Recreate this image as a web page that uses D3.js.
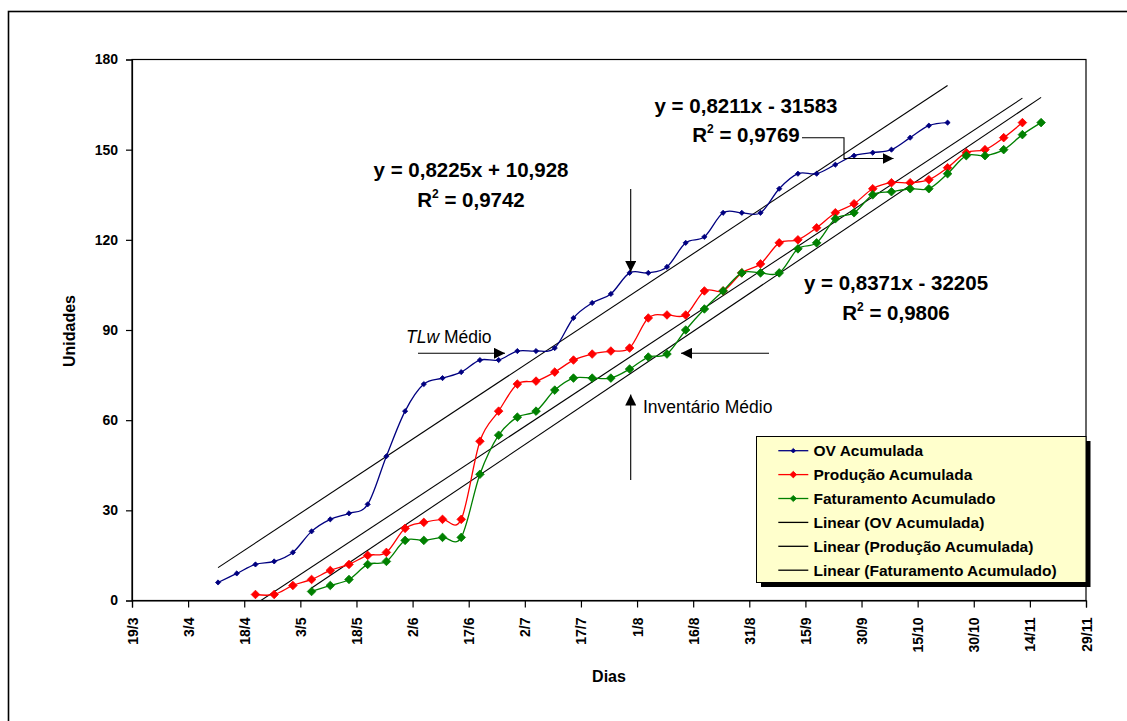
<!DOCTYPE html>
<html>
<head>
<meta charset="utf-8">
<script src="https://cdn.jsdelivr.net/npm/d3@7"></script>
<style>
  html, body { margin: 0; padding: 0; background: #fff; }
  svg { display: block; font-family: "Liberation Sans", Arial, sans-serif; }
</style>
</head>
<body>
<svg id="chart" width="1127" height="721"></svg>
<script>
// ---------------- DATA ----------------
const dates = [
  "2005-04-11","2005-04-16","2005-04-21","2005-04-26","2005-05-01","2005-05-06","2005-05-11","2005-05-16","2005-05-21","2005-05-26",
  "2005-05-31","2005-06-05","2005-06-10","2005-06-15","2005-06-20","2005-06-25","2005-06-30","2005-07-05","2005-07-10","2005-07-15",
  "2005-07-20","2005-07-25","2005-07-30","2005-08-04","2005-08-09","2005-08-14","2005-08-19","2005-08-24","2005-08-29","2005-09-03",
  "2005-09-08","2005-09-13","2005-09-18","2005-09-23","2005-09-28","2005-10-03","2005-10-08","2005-10-13","2005-10-18","2005-10-23",
  "2005-10-28","2005-11-02","2005-11-07","2005-11-12","2005-11-17"
];
const ovValues = [
  6, 9, 12, 13, 16, 23, 27, 29, 32, 48,
  63, 72, 74, 76, 80, 80, 83, 83, 84, 94,
  99, 102, 109, 109, 111, 119, 121, 129, 129, 129,
  137, 142, 142, 145, 148, 149, 150, 154, 158, 159,
  null, null, null, null, null
];
const prodValues = [
  null, null, 2, 2, 5, 7, 10, 12, 15, 16,
  24, 26, 27, 27, 53, 63, 72, 73, 76, 80,
  82, 83, 84, 94, 95, 95, 103, 103, 109, 112,
  119, 120, 124, 129, 132, 137, 139, 139, 140, 144,
  149, 150, 154, 159, null
];
const fatValues = [
  null, null, null, null, null, 3, 5, 7, 12, 13,
  20, 20, 21, 21, 42, 55, 61, 63, 70, 74,
  74, 74, 77, 81, 82, 90, 97, 103, 109, 109,
  109, 117, 119, 127, 129, 135, 136, 137, 137, 142,
  148, 148, 150, 155, 159
];
const seriesNames = ["OV Acumulada", "Produção Acumulada", "Faturamento Acumulado"];
const trendNames = ["Linear (OV Acumulada)", "Linear (Produção Acumulada)", "Linear (Faturamento Acumulado)"];
const seriesColors = ["#000080", "#ff0000", "#008000"];
const xTickDates = [
  "2005-03-19","2005-04-03","2005-04-18","2005-05-03","2005-05-18","2005-06-02","2005-06-17","2005-07-02","2005-07-17",
  "2005-08-01","2005-08-16","2005-08-31","2005-09-15","2005-09-30","2005-10-15","2005-10-30","2005-11-14","2005-11-29"
];
const yTicks = [0, 30, 60, 90, 120, 150, 180];
const equations = [
  ["y = 0,8225x + 10,928", "0,9742"],
  ["y = 0,8211x - 31583", "0,9769"],
  ["y = 0,8371x - 32205", "0,9806"]
];

// ---------------- SETUP ----------------
const parse = d3.utcParse("%Y-%m-%d");
const fmt = d3.utcFormat("%-d/%-m");
const svg = d3.select("#chart");
const font = '"Liberation Sans", Arial, sans-serif';

const L = 132, R = 1086, T = 59.5, B = 600.5;
const x = d3.scaleUtc().domain([parse(xTickDates[0]), parse(xTickDates[xTickDates.length - 1])]).range([L, R]);
const y = d3.scaleLinear().domain([0, 180]).range([B, T]);

// outer frame
svg.append("rect").attr("x", 8.5).attr("y", 11.5).attr("width", 1300).attr("height", 900)
  .attr("fill", "#fff").attr("stroke", "#000").attr("stroke-width", 1.6);

// clip
svg.append("defs").append("clipPath").attr("id", "plotclip")
  .append("rect").attr("x", L).attr("y", T).attr("width", R - L).attr("height", B - T);

const defs = svg.select("defs");
defs.append("marker").attr("id", "arrow").attr("viewBox", "0 0 10 10")
  .attr("refX", 10).attr("refY", 5).attr("markerWidth", 11).attr("markerHeight", 11)
  .attr("markerUnits", "userSpaceOnUse").attr("orient", "auto")
  .append("path").attr("d", "M0,0 L10,5 L0,10 Z").attr("fill", "#000");

// plot area border
svg.append("rect").attr("x", L).attr("y", T).attr("width", R - L).attr("height", B - T)
  .attr("fill", "none").attr("stroke", "#000").attr("stroke-width", 1.2);

// axes
const yAxis = d3.axisLeft(y).tickValues(yTicks).tickSize(6).tickPadding(8);
const gy = svg.append("g").attr("transform", `translate(${L},0)`).call(yAxis);
gy.selectAll("text").attr("font-size", 14).attr("font-weight", "bold").attr("font-family", font).attr("fill", "#000");
gy.selectAll("line,path").attr("stroke", "#000").attr("stroke-width", 1.2);

const xAxis = d3.axisBottom(x).tickValues(xTickDates.map(parse)).tickFormat(fmt).tickSize(7);
const gx = svg.append("g").attr("transform", `translate(0,${B})`).call(xAxis);
gx.selectAll("line,path").attr("stroke", "#000").attr("stroke-width", 1.2);
gx.selectAll("text")
  .attr("font-size", 14).attr("font-weight", "bold").attr("font-family", font).attr("fill", "#000")
  .attr("text-anchor", "end")
  .attr("transform", "rotate(-90)")
  .attr("x", -17).attr("y", 0).attr("dy", "0.36em");

// axis titles
svg.append("text").attr("transform", "translate(75,331) rotate(-90)")
  .attr("text-anchor", "middle").attr("font-size", 16).attr("font-weight", "bold").text("Unidades");
svg.append("text").attr("x", 609).attr("y", 682)
  .attr("text-anchor", "middle").attr("font-size", 16).attr("font-weight", "bold").text("Dias");

// series data
const allValues = [ovValues, prodValues, fatValues];
const series = allValues.map((vals, i) => ({
  name: seriesNames[i], color: seriesColors[i],
  points: dates.map((d, j) => ({ date: parse(d), value: vals[j] })).filter(p => p.value !== null)
}));

// trend lines (least squares on day numbers)
const DAY = 86400000;
const gTrend = svg.append("g").attr("clip-path", "url(#plotclip)");
series.forEach(s => {
  const xs = s.points.map(p => p.date.getTime() / DAY);
  const ys = s.points.map(p => p.value);
  const mx = d3.mean(xs), my = d3.mean(ys);
  let sxy = 0, sxx = 0;
  xs.forEach((xv, k) => { sxy += (xv - mx) * (ys[k] - my); sxx += (xv - mx) * (xv - mx); });
  const slope = sxy / sxx, icpt = my - slope * mx;
  const x0 = xs[0], x1 = xs[xs.length - 1];
  gTrend.append("line")
    .attr("x1", x(new Date(x0 * DAY))).attr("y1", y(slope * x0 + icpt))
    .attr("x2", x(new Date(x1 * DAY))).attr("y2", y(slope * x1 + icpt))
    .attr("stroke", "#000").attr("stroke-width", 1.1);
});

// series lines + markers
const line = d3.line().x(p => x(p.date)).y(p => y(p.value)).curve(d3.curveCatmullRom.alpha(0));
const diamond = r => `M0,${-r}L${r},0L0,${r}L${-r},0Z`;
const markerR = [2.6, 4.3, 4.3];
series.forEach((s, i) => {
  svg.append("path").datum(s.points).attr("d", line)
    .attr("fill", "none").attr("stroke", s.color).attr("stroke-width", 1.3);
  svg.append("g").selectAll("path").data(s.points).join("path")
    .attr("transform", p => `translate(${x(p.date)},${y(p.value)})`)
    .attr("d", diamond(markerR[i])).attr("fill", s.color).attr("stroke", s.color).attr("stroke-width", 0.8);
});

// equations
const eqPos = [[471, 176.7, 206.7], [746, 112.7, 141.7], [896, 290, 319.5]];
equations.forEach((eq, i) => {
  const [cx, y1, y2] = eqPos[i];
  svg.append("text").attr("x", cx).attr("y", y1).attr("text-anchor", "middle")
    .attr("font-size", 20.5).attr("font-weight", "bold").text(eq[0]);
  const t = svg.append("text").attr("x", cx).attr("y", y2).attr("text-anchor", "middle")
    .attr("font-size", 20.5).attr("font-weight", "bold");
  t.append("tspan").text("R");
  t.append("tspan").attr("font-size", 12).attr("dy", -9).text("2");
  t.append("tspan").attr("dy", 9).text(" = " + eq[1]);
});

// annotations
const tl = svg.append("text").attr("x", 406).attr("y", 343).attr("font-size", 17.5);
tl.append("tspan").attr("font-style", "italic").text("TLw");
tl.append("tspan").text(" Médio");
svg.append("text").attr("x", 643).attr("y", 413).attr("font-size", 17.5).text("Inventário Médio");

const arrows = [
  [[418, 353.3], [505, 353.3]],
  [[630.7, 189], [630.7, 272]],
  [[769, 353.3], [681, 353.3]],
  [[630.7, 480], [630.7, 394.5]],
  [[802, 137.7], [844, 137.7], [844, 158.5], [893.5, 158.5]]
];
arrows.forEach(a => {
  svg.append("path").attr("d", d3.line()(a)).attr("fill", "none")
    .attr("stroke", "#000").attr("stroke-width", 1.1).attr("marker-end", "url(#arrow)");
});

// legend
const lg = svg.append("g");
lg.append("rect").attr("x", 761).attr("y", 441).attr("width", 329.5).attr("height", 146).attr("fill", "#000");
lg.append("rect").attr("x", 756.5).attr("y", 436.5).attr("width", 329.5).attr("height", 146)
  .attr("fill", "#ffffcc").attr("stroke", "#000").attr("stroke-width", 1);
const legendItems = seriesNames.map((n, i) => ({ name: n, color: seriesColors[i], marker: true, r: [2.3, 3.3, 3.1][i] }))
  .concat(trendNames.map(n => ({ name: n, color: "#000", marker: false })));
legendItems.forEach((it, i) => {
  const yy = 450.7 + i * 23.9;
  lg.append("line").attr("x1", 778.3).attr("x2", 808.3).attr("y1", yy).attr("y2", yy)
    .attr("stroke", it.color).attr("stroke-width", 1.3);
  if (it.marker) {
    lg.append("path").attr("transform", `translate(793.3,${yy})`).attr("d", diamond(it.r))
      .attr("fill", it.color).attr("stroke", it.color).attr("stroke-width", 0.8);
  }
  lg.append("text").attr("x", 813.5).attr("y", yy).attr("dy", "0.36em")
    .attr("font-size", 15.5).attr("font-weight", "bold").text(it.name);
});
</script>
</body>
</html>
